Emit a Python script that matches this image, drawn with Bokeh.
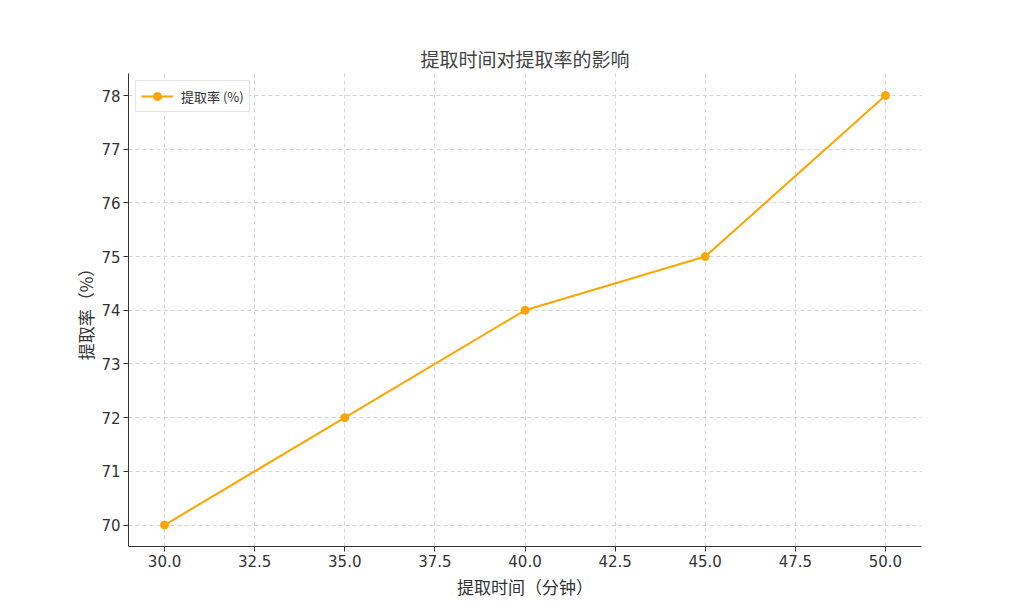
from bokeh.plotting import figure
from bokeh.models import FixedTicker, NumeralTickFormatter, Range1d, Legend, LegendItem
from bokeh.embed import file_html
from bokeh.resources import INLINE

x_values = [30, 35, 40, 45, 50]
y_values = [70, 72, 74, 75, 78]
x_ticks = [30, 32.5, 35, 37.5, 40, 42.5, 45, 47.5, 50]
y_ticks = [70, 71, 72, 73, 74, 75, 76, 77, 78]

title_text = "提取时间对提取率的影响"
x_label = "提取时间（分钟）"
y_label = "提取率（%）"
series_name = "提取率 (%)"

FONT = "Noto Sans CJK SC"
ORANGE = "#FFA500"

p = figure(width=1008, height=604, output_backend="svg", toolbar_location=None,
           x_range=Range1d(29.0, 51.0), y_range=Range1d(69.6, 78.41),
           min_border_left=128, min_border_right=87, min_border_top=73, min_border_bottom=58)

p.title.text = title_text
p.title.align = "center"
p.title.text_font = FONT
p.title.text_font_size = "19px"
p.title.text_font_style = "normal"
p.title.text_color = "#444444"
p.title.standoff = 4

line = p.line(x_values, y_values, line_color=ORANGE, line_width=2)
pts = p.scatter(x_values, y_values, size=8, fill_color=ORANGE, line_color=ORANGE)

legend = Legend(items=[LegendItem(label=series_name, renderers=[line, pts])], location="top_left")
legend.label_text_font = FONT
legend.label_text_font_size = "13px"
legend.label_text_color = "#333333"
legend.border_line_color = "#cccccc"
legend.border_line_width = 1
legend.background_fill_alpha = 0.9
legend.margin = 7
legend.padding = 5
legend.spacing = 0
legend.glyph_width = 32
legend.label_standoff = 8
p.add_layout(legend)

for ax, ticks in ((p.xaxis, x_ticks), (p.yaxis, y_ticks)):
    ax.ticker = FixedTicker(ticks=ticks)
    ax.major_label_text_font = "DejaVu Sans"
    ax.major_label_text_font_size = "15px"
    ax.major_label_text_color = "#333333"
    ax.major_label_standoff = 3
    ax.axis_label_text_font = FONT
    ax.axis_label_text_font_size = "17px"
    ax.axis_label_text_font_style = "normal"
    ax.axis_label_text_color = "#333333"
    ax.axis_line_color = "#333333"
    ax.major_tick_line_color = "#333333"
    ax.major_tick_out = 5
    ax.major_tick_in = 0
    ax.minor_tick_line_color = None

p.xaxis.axis_label_standoff = 4
p.yaxis.axis_label_standoff = 0

p.xaxis.formatter = NumeralTickFormatter(format="0.0")
p.yaxis.formatter = NumeralTickFormatter(format="0")
p.xaxis.axis_label = x_label
p.yaxis.axis_label = y_label

p.xgrid.ticker = FixedTicker(ticks=x_ticks)
p.ygrid.ticker = FixedTicker(ticks=y_ticks)
for g in (p.xgrid, p.ygrid):
    g.grid_line_color = "#cccccc"
    g.grid_line_dash = "4 3"
    g.grid_line_width = 0.8

p.outline_line_color = None

open("out.html", "w").write(file_html(p, INLINE))
